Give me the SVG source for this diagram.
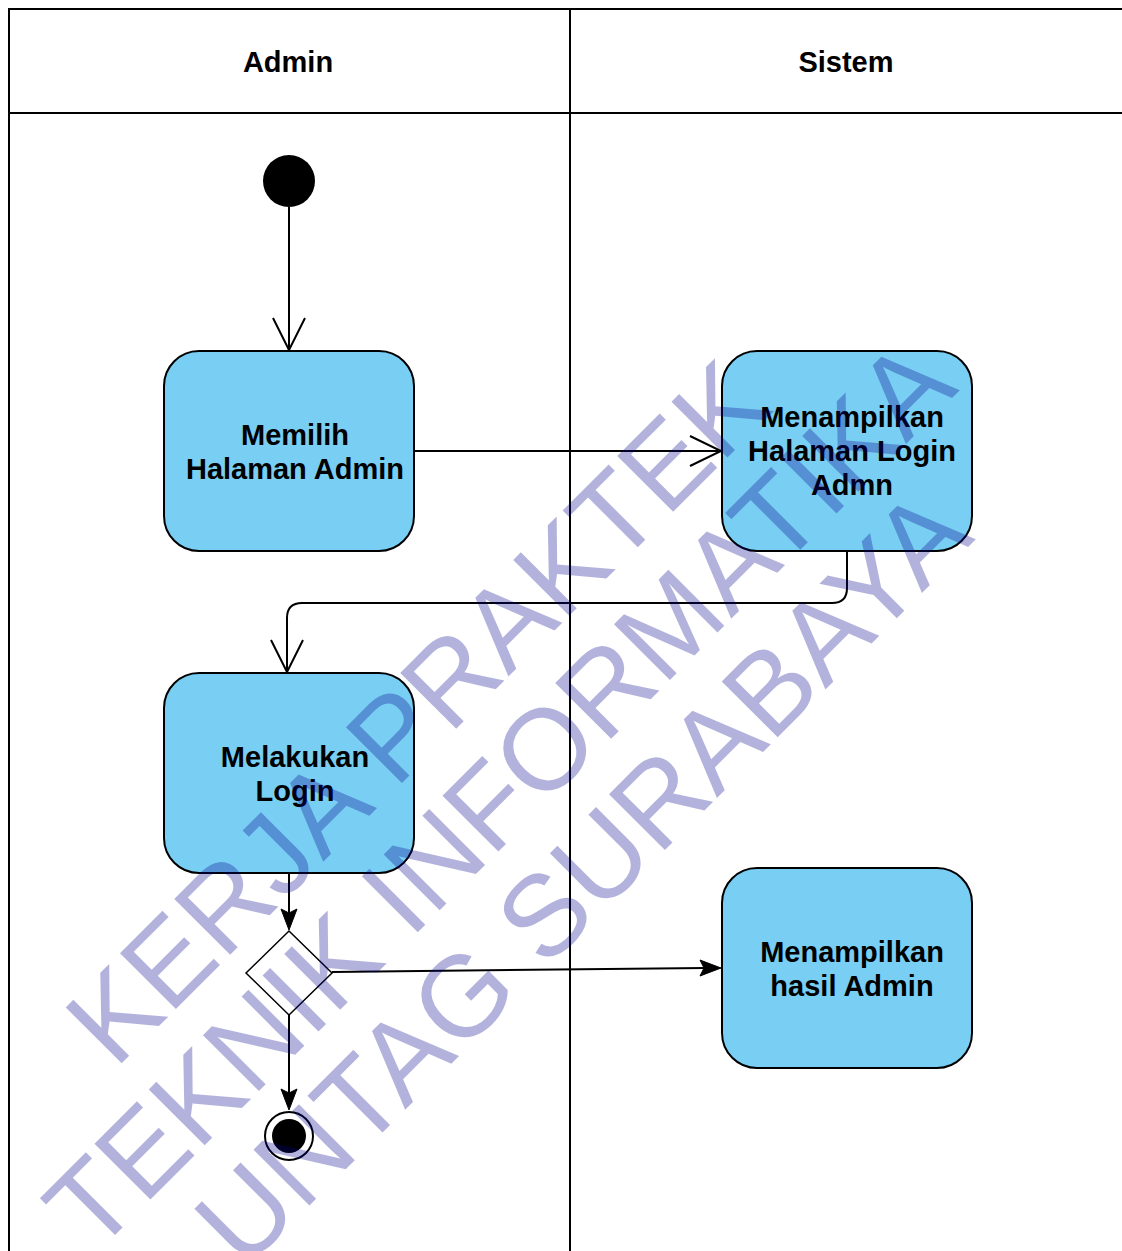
<svg xmlns="http://www.w3.org/2000/svg" width="1122" height="1251" viewBox="0 0 1122 1251">
<style>
.lane{fill:none;stroke:#000;stroke-width:2}
.act{fill:#79cef3;stroke:#000;stroke-width:2}
.lbl{font-family:"Liberation Sans",Arial,sans-serif;font-size:29px;font-weight:bold;fill:#000;text-anchor:middle}
.edge{fill:none;stroke:#000;stroke-width:2}
.open{fill:none;stroke:#000;stroke-width:2}
.head{fill:#000;stroke:#000;stroke-width:1}
.wm{font-family:"Liberation Sans",Arial,sans-serif;font-size:115px;fill:#00008a;fill-opacity:0.3;text-anchor:middle}
</style>
<rect width="1122" height="1251" fill="#fff"/>
<g id="lanes">
  <path class="lane" d="M1122,9 L9,9 L9,1251"/>
  <line class="lane" x1="9" y1="113" x2="1122" y2="113"/>
  <line class="lane" x1="570" y1="9" x2="570" y2="1251"/>
  <text class="lbl" x="288" y="72">Admin</text>
  <text class="lbl" x="846" y="72">Sistem</text>
</g>
<g id="start"><circle cx="289" cy="181" r="26" fill="#000"/></g>
<g id="n1">
  <rect class="act" x="164" y="351" width="250" height="200" rx="35" ry="35"/>
  <text class="lbl" x="295" y="445">Memilih</text>
  <text class="lbl" x="295" y="479">Halaman Admin</text>
</g>
<g id="n2">
  <rect class="act" x="722" y="351" width="250" height="200" rx="35" ry="35"/>
  <text class="lbl" x="852" y="427">Menampilkan</text>
  <text class="lbl" x="852" y="461">Halaman Login</text>
  <text class="lbl" x="852" y="495">Admn</text>
</g>
<g id="n3">
  <rect class="act" x="164" y="673" width="250" height="200" rx="35" ry="35"/>
  <text class="lbl" x="295" y="767">Melakukan</text>
  <text class="lbl" x="295" y="801">Login</text>
</g>
<g id="n4">
  <rect class="act" x="722" y="868" width="250" height="200" rx="35" ry="35"/>
  <text class="lbl" x="852" y="962">Menampilkan</text>
  <text class="lbl" x="852" y="996">hasil Admin</text>
</g>
<g id="decision"><path d="M289,931 L332,973 L289,1015 L246,973 Z" fill="#fff" stroke="#000" stroke-width="1.5"/></g>
<g id="end">
  <circle cx="289" cy="1136" r="24" fill="#fff" stroke="#000" stroke-width="2"/>
  <circle cx="289" cy="1136" r="17" fill="#000"/>
</g>
<g id="connectors">
  <line class="edge" x1="289" y1="207" x2="289" y2="350"/>
  <path class="open" d="M273,318 L289,350 L305,318"/>
  <line class="edge" x1="414" y1="451" x2="721" y2="451"/>
  <path class="open" d="M690,436 L721,451 L690,466"/>
  <path class="edge" d="M847,551 L847,588 Q847,603 832,603 L302,603 Q287,603 287,618 L287,672"/>
  <path class="open" d="M271,640 L287,672 L303,640"/>
  <line class="edge" x1="289" y1="873" x2="289" y2="915"/>
  <path class="head" d="M289,930 L281,909 L289,913 L297,909 Z"/>
  <line class="edge" x1="332" y1="972" x2="705" y2="968"/>
  <path class="head" d="M721,968 L700,976 L704,968 L700,960 Z"/>
  <line class="edge" x1="289" y1="1015" x2="289" y2="1094"/>
  <path class="head" d="M289,1110 L281,1089 L289,1093 L297,1089 Z"/>
</g>
<g id="watermark">
  <text class="wm" x="445" y="740" transform="rotate(-45 445 740)">KERJA PRAKTEK</text>
  <text class="wm" x="527" y="823" transform="rotate(-45 527 823)">TEKNIK INFORMATIKA</text>
  <text class="wm" x="610" y="905" transform="rotate(-45 610 905)">UNTAG SURABAYA</text>
</g>
</svg>
